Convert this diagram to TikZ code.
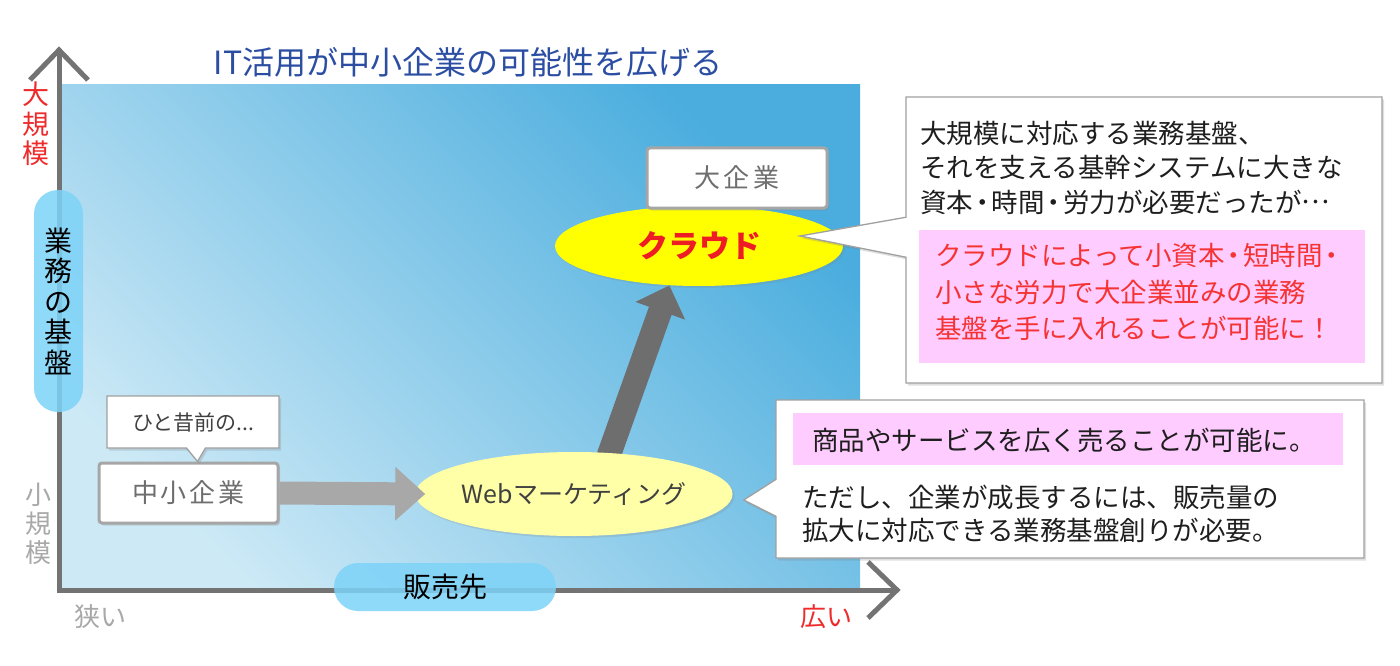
\documentclass[tikz,border=0pt]{standalone}
\usepackage{fontspec}
\setmainfont{Noto Sans CJK JP}
\usetikzlibrary{arrows.meta,shadows,shapes.geometric,shapes.callouts,calc}
\pgfdeclarelayer{bg}
\pgfdeclarelayer{back}
\pgfsetlayers{bg,back,main}
\definecolor{axisgray}{HTML}{737373}
\definecolor{bglight}{HTML}{CDE9F6}
\definecolor{bgdark}{HTML}{4AADDE}
\definecolor{pillblue}{HTML}{7DD3F8}
\definecolor{webyellow}{HTML}{FFFFA8}
\definecolor{cloudyellow}{HTML}{FFFF00}
\definecolor{cloudred}{HTML}{EE1C25}
\definecolor{pinkbg}{HTML}{FFCCFF}
\definecolor{pinkred}{HTML}{F53333}
\definecolor{framegray}{HTML}{A0A0A0}
\definecolor{boxgray}{HTML}{A6A6A6}
\definecolor{boxtext}{HTML}{6E6E6E}
\definecolor{titleblue}{HTML}{2B4EA3}
\definecolor{labelgray}{HTML}{A8A8A8}
\definecolor{labelred}{HTML}{EE2A2A}
\definecolor{darktext}{HTML}{1E1E1E}
\definecolor{arrowlight}{HTML}{A8A8A8}
\definecolor{arrowdark}{HTML}{6E6E6E}
\newcommand\fsz[2]{\fontsize{#1}{#2}\selectfont}
\newcommand\ndot{\kern-4pt・\kern-4pt}
\newcommand\mdots{\raisebox{0.32em}{…}}
\begin{document}
\begin{tikzpicture}[x=1pt,y=-1pt,
  axisline/.style={draw=axisgray,line width=5pt,line join=miter},
  pill/.style={fill=pillblue,fill opacity=0.85,text opacity=1,rounded corners=24pt,inner sep=0pt},
  softshadow/.style={drop shadow={opacity=0.25,shadow xshift=2pt,shadow yshift=-2.5pt}},
  plainbox/.style={draw=boxgray,line width=3pt,fill=white,rounded corners=3pt,inner sep=0pt,text=boxtext,softshadow},
  calloutbox/.style={rectangle callout,draw=framegray,line width=1.3pt,fill=white,inner sep=0pt,softshadow},
  pinkbox/.style={fill=pinkbg,inner sep=0pt},
  txt/.style={inner sep=0pt,anchor=west,align=left},
  harrow/.style={draw=arrowlight,line width=23pt,-{Triangle[length=30pt,width=52pt]},arrowlight},
  bigarrow/.style={draw=arrowdark,line width=24pt,-{Triangle[length=27pt,width=51pt]},arrowdark},
]
\useasboundingbox (0,0) rectangle (1400,666);

% background and axes
\begin{pgfonlayer}{bg}
  \shade[top color=bgdark,bottom color=bglight,shading angle=-45] (61,85) rectangle (860,589);
  \coordinate (O) at (59,590);
  \coordinate (ytip) at (59,50);
  \coordinate (xtip) at (897,590);
  \draw[axisline] (ytip) -- (O) -- (xtip);
  \draw[axisline] (30,80) -- (ytip) -- (88,80);
  \draw[axisline] (868,562) -- (xtip) -- (868,618);
\end{pgfonlayer}

% title
\node[inner sep=0pt,text=titleblue,font=\fsz{32}{36}] (title) at (468,62) {IT活用が中小企業の可能性を広げる};

% axis labels
\node[pill,minimum width=49pt,minimum height=222pt,align=center,font=\fsz{28}{30.5}] (base) at (58.5,301) {業\\務\\の\\基\\盤};
\node[pill,minimum width=222pt,minimum height=48pt,font=\fsz{28}{32}] (sales) at (445,587) {販売先};
\node[inner sep=0pt,align=center,text=labelred,font=\fsz{27}{29.5}] (big) at (36,124) {大\\規\\模};
\node[inner sep=0pt,align=center,text=labelgray,font=\fsz{26}{29}] (small) at (38,524) {小\\規\\模};
\node[inner sep=0pt,text=labelgray,font=\fsz{26}{30}] (narrow) at (100,617) {狭い};
\node[inner sep=0pt,text=labelred,font=\fsz{26}{30}] (wide) at (826,617) {広い};

% main nodes
\node[plainbox,minimum width=179pt,minimum height=60pt,font=\fsz{26}{30}] (sme) at (188.5,493) {中\kern3pt 小\kern3pt 企\kern3pt 業};
\node[calloutbox,minimum width=172pt,minimum height=52pt,callout absolute pointer={([xshift=9pt]sme.north)},callout pointer width=19pt,text=darktext!85,font=\fsz{21}{25}] (past) at (193,422) {ひと昔前の...};
\node[ellipse,fill=webyellow,minimum width=294pt,minimum height=84pt,inner sep=0pt,text=darktext!85,font=\fsz{25}{30},drop shadow={opacity=0.2,shadow xshift=2pt,shadow yshift=-2pt}] (web) at (574,494) {Webマーケティング};
\node[ellipse,fill=cloudyellow,minimum width=288pt,minimum height=80pt,inner sep=0pt,text=cloudred,font=\fsz{31}{36}\bfseries,drop shadow={opacity=0.2,shadow xshift=2pt,shadow yshift=-2pt}] (cloud) at (699,246) {クラウド};
\node[plainbox,minimum width=180pt,minimum height=60pt,font=\fsz{26}{30}] (large) at (737,178) {大\kern4pt 企\kern4pt 業};

% arrows
\draw[harrow] (sme.east) -- ([xshift=10pt]web.west);
\begin{pgfonlayer}{back}
  \draw[bigarrow] ([xshift=21pt]web.center) -- (cloud.233);
\end{pgfonlayer}

% callout 1
\node[calloutbox,minimum width=476pt,minimum height=286pt,callout absolute pointer={([xshift=101pt,yshift=10pt]cloud.center)},callout pointer width=40pt] (c1) at (1144,240) {};
\node[pinkbox,minimum width=446pt,minimum height=133pt] (p1) at (1142,296.5) {};
\node[txt,text=darktext,font=\fsz{26.5}{34.5}] (t1) at (920,167.5) {大規模に対応する業務基盤、\\それを支える基幹システムに大きな\\資本\ndot 時間\ndot 労力が必要だったが\mdots};
\node[txt,text=pinkred,font=\fsz{26.5}{36.5}] (t2) at (935,292) {クラウドによって小資本\ndot 短時間\ndot\\小さな労力で大企業並みの業務\\基盤を手に入れることが可能に！};

% callout 2
\node[calloutbox,minimum width=588pt,minimum height=158pt,callout absolute pointer={([xshift=11pt,yshift=-6pt]web.east)},callout pointer width=37pt] (c2) at (1070,479) {};
\node[pinkbox,minimum width=550pt,minimum height=52pt] (p2) at (1068,439) {};
\node[txt,text=darktext,font=\fsz{26.5}{33}] (t3) at (812,440) {商品やサービスを広く売ることが可能に。};
\node[txt,text=darktext,font=\fsz{26.5}{33}] (t4) at (802,513.5) {ただし、企業が成長するには、販売量の\\拡大に対応できる業務基盤創りが必要。};
\end{tikzpicture}
\end{document}
